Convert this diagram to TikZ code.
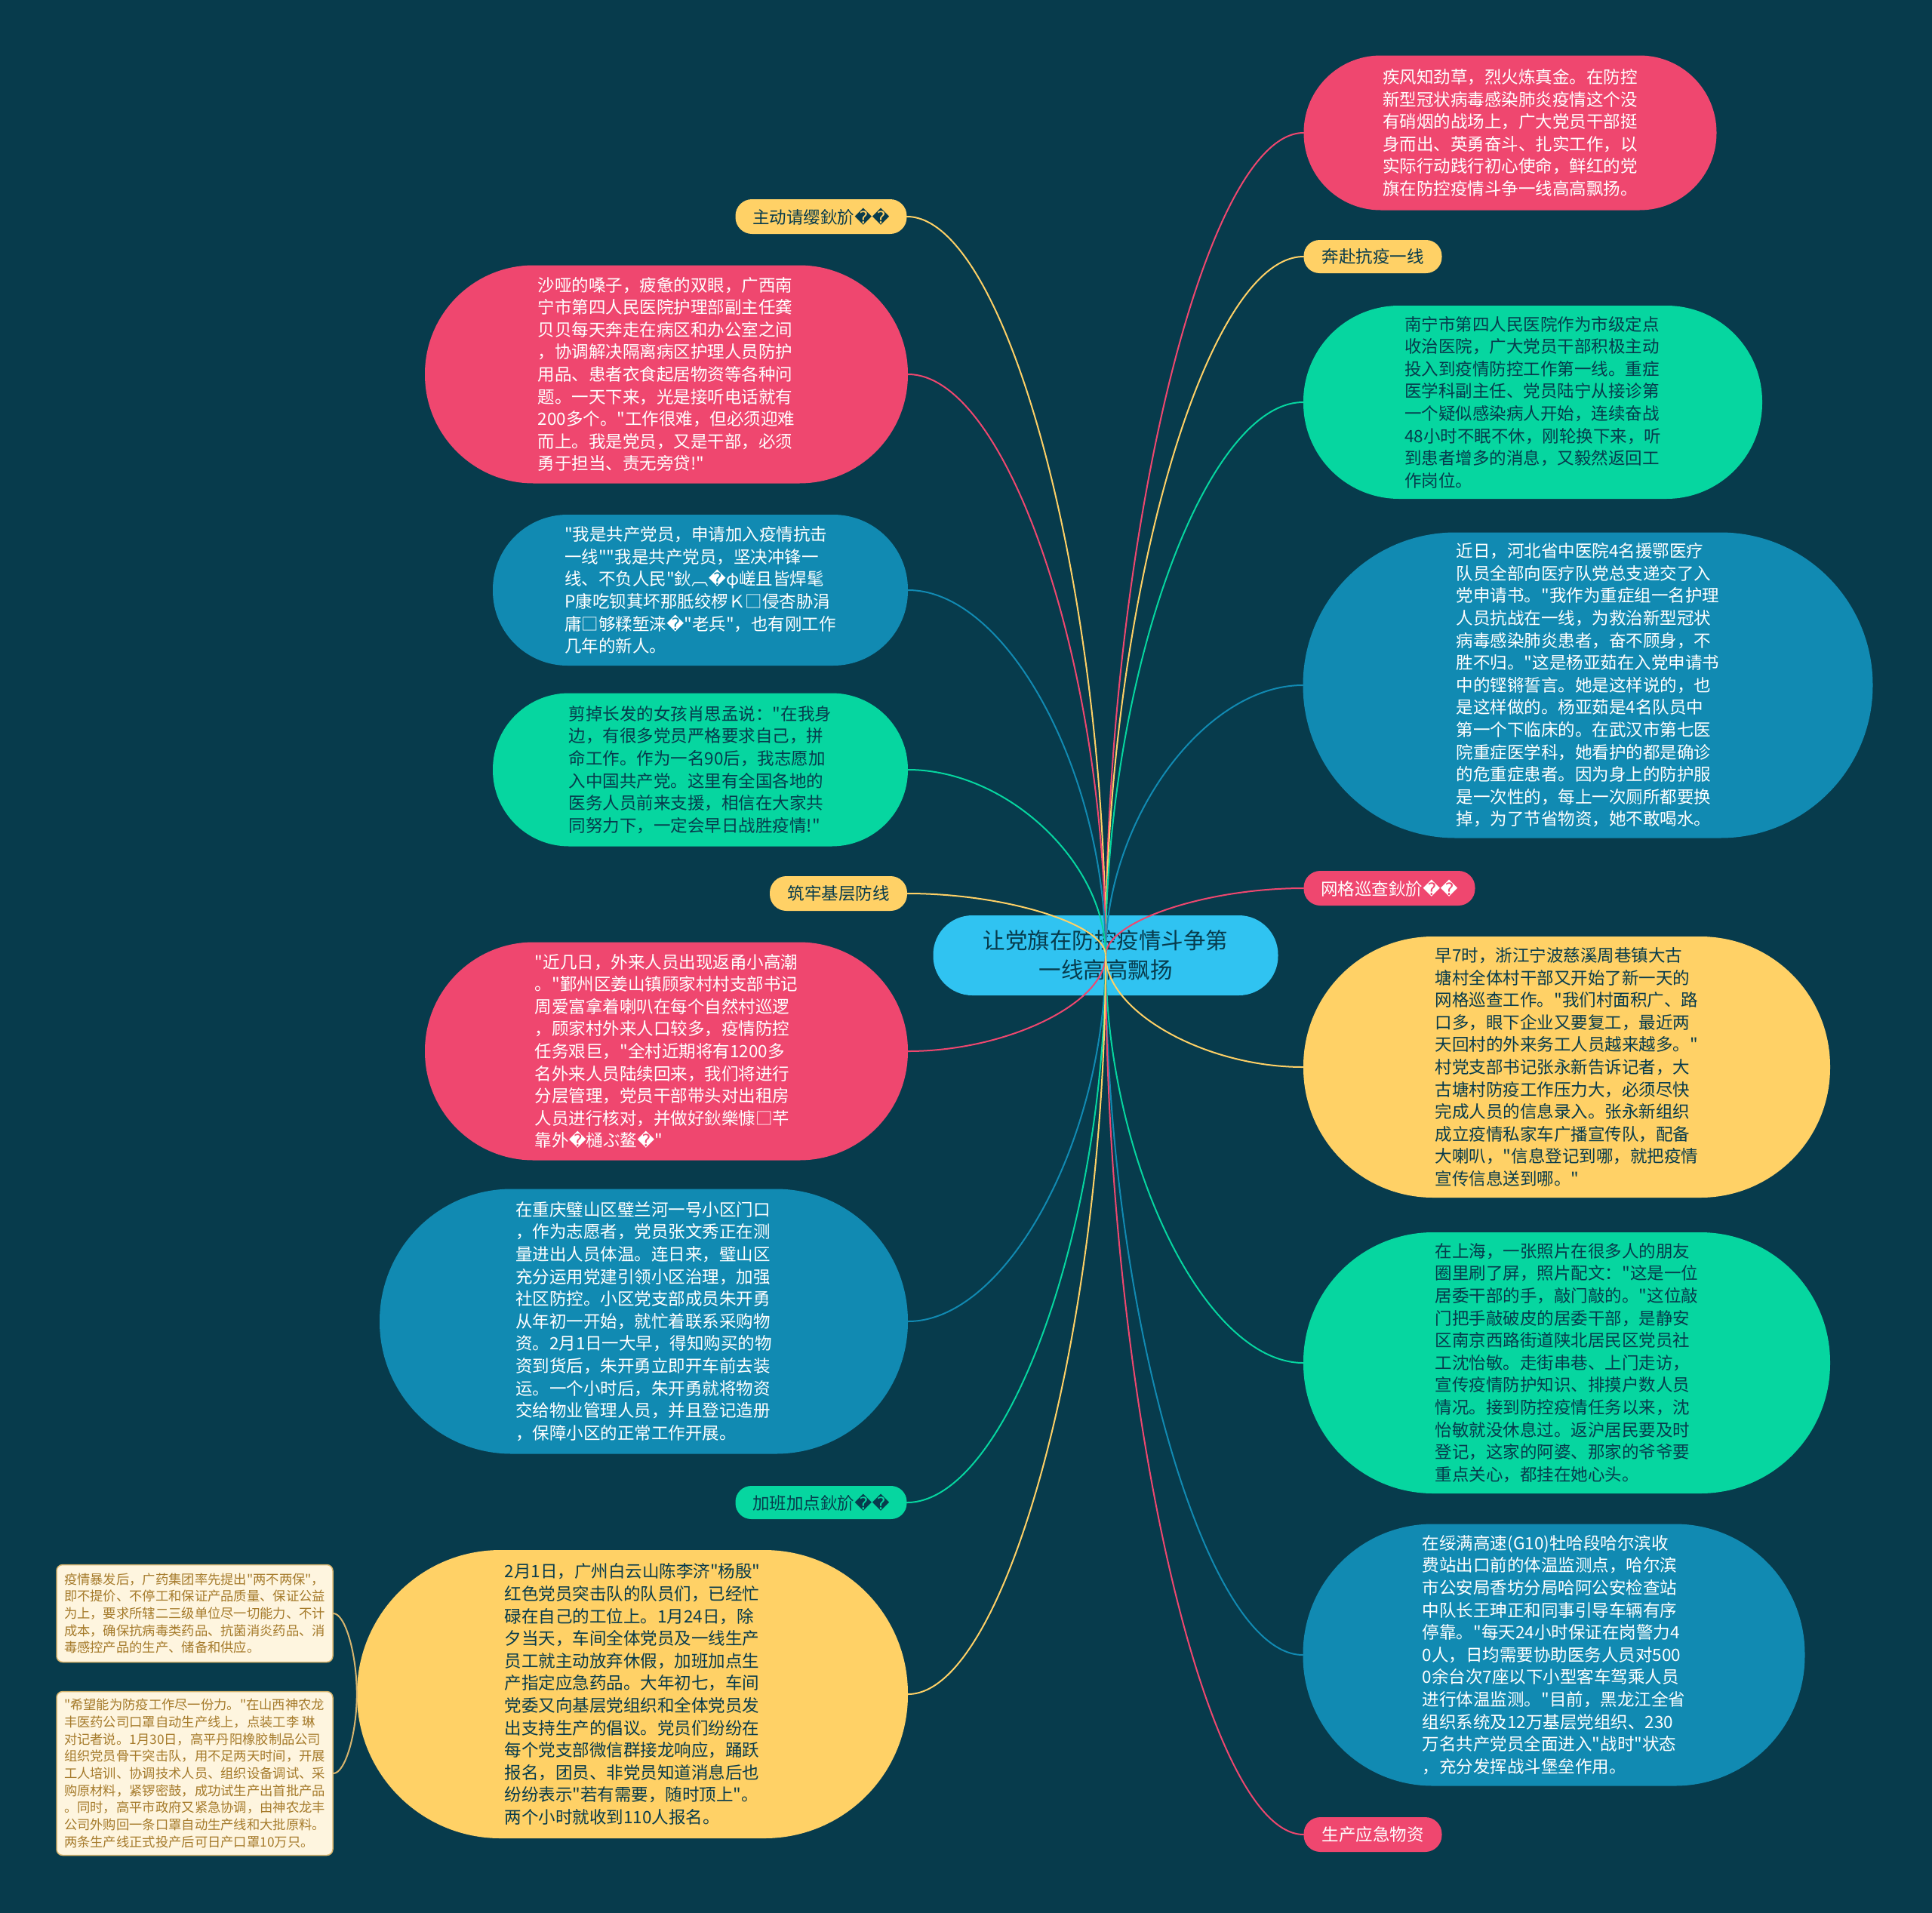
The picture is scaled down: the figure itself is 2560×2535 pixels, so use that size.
\documentclass[tikz,border=0pt]{standalone}
\usepackage{fontspec}
\newfontfamily\cjk{Noto Sans CJK SC}
\newfontfamily\dejavu{DejaVu Sans}
\usetikzlibrary{calc}
\definecolor{bgcol}{HTML}{073B4C}
\definecolor{pinkc}{HTML}{EF476F}
\definecolor{yellowc}{HTML}{FFD166}
\definecolor{greenc}{HTML}{06D6A0}
\definecolor{bluec}{HTML}{118AB2}
\definecolor{hubc}{HTML}{30C3F1}
\definecolor{creamc}{HTML}{FEF5DF}
\definecolor{tanc}{HTML}{D8B56E}
\definecolor{brownc}{HTML}{A57A2A}
\newcommand{\qq}{{\dejavu\char"FFFD}}
\tikzset{
  bubble/.style={inner sep=0pt, align=left, font=\cjk\fontsize{22.5}{29.6}\selectfont},
  pinkbox/.style={bubble, fill=pinkc, text=white},
  yellowbox/.style={bubble, fill=yellowc, text=bgcol},
  greenbox/.style={bubble, fill=greenc, text=bgcol},
  bluebox/.style={bubble, fill=bluec, text=white},
  notebox/.style={inner sep=0pt, align=left, fill=creamc, draw=tanc, line width=1.5pt,
    rounded corners=8pt, text=brownc, font=\cjk\fontsize{17.3}{22.7}\selectfont},
  branch/.style={to path={let \p1=(\tikztostart), \p2=(\tikztotarget) in
    .. controls (\x1,{0.5*(\y1+\y2)}) and ({0.5*(\x1+\x2)},\y2) .. (\tikztotarget)}},
  link/.style={line width=2pt, draw=#1},
}
\begin{document}
\begin{tikzpicture}[x=1pt,y=-1pt,line cap=round,line join=round]
  \fill[bgcol] (0,0) rectangle (2560,2535);
  \useasboundingbox (0,0) rectangle (2560,2535);
  % centre
  \node[bubble, align=center, fill=hubc, text=bgcol, minimum width=457pt, minimum height=106pt,
    rounded corners=52pt, font=\cjk\fontsize{29.5}{39}\selectfont] (hub) at (1465,1266)
    {让党旗在防控疫情斗争第\\一线高高飘扬};
  % right side
  \node[pinkbox, minimum width=547pt, minimum height=205pt, rounded corners=102pt] (r1) at (2001,176)
    {疾风知劲草，烈火炼真金。在防控\\新型冠状病毒感染肺炎疫情这个没\\有硝烟的战场上，广大党员干部挺\\身而出、英勇奋斗、扎实工作，以\\实际行动践行初心使命，鲜红的党\\旗在防控疫情斗争一线高高飘扬。};
  \node[yellowbox, align=center, minimum width=183pt, minimum height=44pt, rounded corners=21pt] (lb1) at (1819,340)
    {奔赴抗疫一线};
  \node[greenbox, minimum width=608pt, minimum height=256pt, rounded corners=127pt] (r2) at (2031,533)
    {南宁市第四人民医院作为市级定点\\收治医院，广大党员干部积极主动\\投入到疫情防控工作第一线。重症\\医学科副主任、党员陆宁从接诊第\\一个疑似感染病人开始，连续奋战\\48小时不眠不休，刚轮换下来，听\\到患者增多的消息，又毅然返回工\\作岗位。};
  \node[bluebox, minimum width=755pt, minimum height=405pt, rounded corners=202pt] (r3) at (2104,908)
    {近日，河北省中医院4名援鄂医疗\\队员全部向医疗队党总支递交了入\\党申请书。"我作为重症组一名护理\\人员抗战在一线，为救治新型冠状\\病毒感染肺炎患者，奋不顾身，不\\胜不归。"这是杨亚茹在入党申请书\\中的铿锵誓言。她是这样说的，也\\是这样做的。杨亚茹是4名队员中\\第一个下临床的。在武汉市第七医\\院重症医学科，她看护的都是确诊\\的危重症患者。因为身上的防护服\\是一次性的，每上一次厕所都要换\\掉，为了节省物资，她不敢喝水。};
  \node[pinkbox, align=center, minimum width=227pt, minimum height=46pt, rounded corners=22pt] (lb2) at (1841,1177)
    {网格巡查鈥斺\qq\qq};
  \node[yellowbox, minimum width=698pt, minimum height=346pt, rounded corners=172pt] (r4) at (2076,1414)
    {早7时，浙江宁波慈溪周巷镇大古\\塘村全体村干部又开始了新一天的\\网格巡查工作。"我们村面积广、路\\口多，眼下企业又要复工，最近两\\天回村的外来务工人员越来越多。"\\村党支部书记张永新告诉记者，大\\古塘村防疫工作压力大，必须尽快\\完成人员的信息录入。张永新组织\\成立疫情私家车广播宣传队，配备\\大喇叭，"信息登记到哪，就把疫情\\宣传信息送到哪。"};
  \node[greenbox, minimum width=698pt, minimum height=346pt, rounded corners=172pt] (r5) at (2076,1806)
    {在上海，一张照片在很多人的朋友\\圈里刷了屏，照片配文："这是一位\\居委干部的手，敲门敲的。"这位敲\\门把手敲破皮的居委干部，是静安\\区南京西路街道陕北居民区党员社\\工沈怡敏。走街串巷、上门走访，\\宣传疫情防护知识、排摸户数人员\\情况。接到防控疫情任务以来，沈\\怡敏就没休息过。返沪居民要及时\\登记，这家的阿婆、那家的爷爷要\\重点关心，都挂在她心头。};
  \node[bluebox, minimum width=665pt, minimum height=347pt, rounded corners=172pt] (r6) at (2059,2193)
    {在绥满高速(G10)牡哈段哈尔滨收\\费站出口前的体温监测点，哈尔滨\\市公安局香坊分局哈阿公安检查站\\中队长王珅正和同事引导车辆有序\\停靠。"每天24小时保证在岗警力4\\0人，日均需要协助医务人员对500\\0余台次7座以下小型客车驾乘人员\\进行体温监测。"目前，黑龙江全省\\组织系统及12万基层党组织、230\\万名共产党员全面进入"战时"状态\\，充分发挥战斗堡垒作用。};
  \node[pinkbox, align=center, minimum width=183pt, minimum height=46pt, rounded corners=22pt] (lb3) at (1819,2431)
    {生产应急物资};
  % left side
  \node[yellowbox, align=center, minimum width=227pt, minimum height=46pt, rounded corners=22pt] (lb4) at (1088,287)
    {主动请缨鈥斺\qq\qq};
  \node[pinkbox, minimum width=640pt, minimum height=289pt, rounded corners=144pt] (l1) at (883,496)
    {沙哑的嗓子，疲惫的双眼，广西南\\宁市第四人民医院护理部副主任龚\\贝贝每天奔走在病区和办公室之间\\，协调解决隔离病区护理人员防护\\用品、患者衣食起居物资等各种问\\题。一天下来，光是接听电话就有\\200多个。"工作很难，但必须迎难\\而上。我是党员，又是干部，必须\\勇于担当、责无旁贷!"};
  \node[bluebox, minimum width=550pt, minimum height=200pt, rounded corners=99pt] (l2) at (928,782)
    {"我是共产党员，申请加入疫情抗击\\一线""我是共产党员，坚决冲锋一\\线、不负人民"鈥︹\qq φ嵯且皆焊髦\\P康吃钡萁坏那胝绞椤Ｋ□侵杏胁涓\\庸□够糅堑涞\qq"老兵"，也有刚工作\\几年的新人。};
  \node[greenbox, minimum width=550pt, minimum height=203pt, rounded corners=101pt] (l3) at (928,1020)
    {剪掉长发的女孩肖思孟说："在我身\\边，有很多党员严格要求自己，拼\\命工作。作为一名90后，我志愿加\\入中国共产党。这里有全国各地的\\医务人员前来支援，相信在大家共\\同努力下，一定会早日战胜疫情!"};
  \node[yellowbox, align=center, minimum width=182pt, minimum height=46pt, rounded corners=22pt] (lb5) at (1111,1184)
    {筑牢基层防线};
  \node[pinkbox, minimum width=640pt, minimum height=289pt, rounded corners=144pt] (l4) at (883,1393)
    {"近几日，外来人员出现返甬小高潮\\。"鄞州区姜山镇顾家村村支部书记\\周爱富拿着喇叭在每个自然村巡逻\\，顾家村外来人口较多，疫情防控\\任务艰巨，"全村近期将有1200多\\名外来人员陆续回来，我们将进行\\分层管理，党员干部带头对出租房\\人员进行核对，并做好鈥樂慷□芊\\靠外\qq 樋ぶ鳌\qq"};
  \node[bluebox, minimum width=700pt, minimum height=351pt, rounded corners=175pt] (l5) at (853,1751)
    {在重庆璧山区璧兰河一号小区门口\\，作为志愿者，党员张文秀正在测\\量进出人员体温。连日来，璧山区\\充分运用党建引领小区治理，加强\\社区防控。小区党支部成员朱开勇\\从年初一开始，就忙着联系采购物\\资。2月1日一大早，得知购买的物\\资到货后，朱开勇立即开车前去装\\运。一个小时后，朱开勇就将物资\\交给物业管理人员，并且登记造册\\，保障小区的正常工作开展。};
  \node[greenbox, align=center, minimum width=227pt, minimum height=44pt, rounded corners=21pt] (lb6) at (1088,1991)
    {加班加点鈥斺\qq\qq};
  \node[yellowbox, minimum width=730pt, minimum height=382pt, rounded corners=190pt] (l6) at (838,2245)
    {2月1日，广州白云山陈李济"杨殷"\\红色党员突击队的队员们，已经忙\\碌在自己的工位上。1月24日，除\\夕当天，车间全体党员及一线生产\\员工就主动放弃休假，加班加点生\\产指定应急药品。大年初七，车间\\党委又向基层党组织和全体党员发\\出支持生产的倡议。党员们纷纷在\\每个党支部微信群接龙响应，踊跃\\报名，团员、非党员知道消息后也\\纷纷表示"若有需要，随时顶上"。\\两个小时就收到110人报名。};
  \node[notebox, minimum width=366pt, minimum height=129pt] (s1) at (258,2138)
    {疫情暴发后，广药集团率先提出"两不两保"，\\即不提价、不停工和保证产品质量、保证公益\\为上，要求所辖二三级单位尽一切能力、不计\\成本，确保抗病毒类药品、抗菌消炎药品、消\\毒感控产品的生产、储备和供应。};
  \node[notebox, minimum width=366pt, minimum height=217pt] (s2) at (258,2350)
    {"希望能为防疫工作尽一份力。"在山西神农龙\\丰医药公司口罩自动生产线上，点装工李 琳\\对记者说。1月30日，高平丹阳橡胶制品公司\\组织党员骨干突击队，用不足两天时间，开展\\工人培训、协调技术人员、组织设备调试、采\\购原材料，紧锣密鼓，成功试生产出首批产品\\。同时，高平市政府又紧急协调，由神农龙丰\\公司外购回一条口罩自动生产线和大批原料。\\两条生产线正式投产后可日产口罩10万只。};
  % branches
  \draw[link=pinkc] (hub.center) to[branch] (r1.west);
  \draw[link=yellowc] (hub.center) to[branch] (lb1.west);
  \draw[link=greenc] (hub.center) to[branch] (r2.west);
  \draw[link=bluec] (hub.center) to[branch] (r3.west);
  \draw[link=pinkc] (hub.center) to[branch] (lb2.west);
  \draw[link=yellowc] (hub.center) to[branch] (r4.west);
  \draw[link=greenc] (hub.center) to[branch] (r5.west);
  \draw[link=bluec] (hub.center) to[branch] (r6.west);
  \draw[link=pinkc] (hub.center) to[branch] (lb3.west);
  \draw[link=yellowc] (hub.center) to[branch] (lb4.east);
  \draw[link=pinkc] (hub.center) to[branch] (l1.east);
  \draw[link=bluec] (hub.center) to[branch] (l2.east);
  \draw[link=greenc] (hub.center) to[branch] (l3.east);
  \draw[link=yellowc] (hub.center) to[branch] (lb5.east);
  \draw[link=pinkc] (hub.center) to[branch] (l4.east);
  \draw[link=bluec] (hub.center) to[branch] (l5.east);
  \draw[link=greenc] (hub.center) to[branch] (lb6.east);
  \draw[link=yellowc] (hub.center) to[branch] (l6.east);
  \draw[link=tanc] (l6.west) to[branch] (s1.east);
  \draw[link=tanc] (l6.west) to[branch] (s2.east);
\end{tikzpicture}
\end{document}
